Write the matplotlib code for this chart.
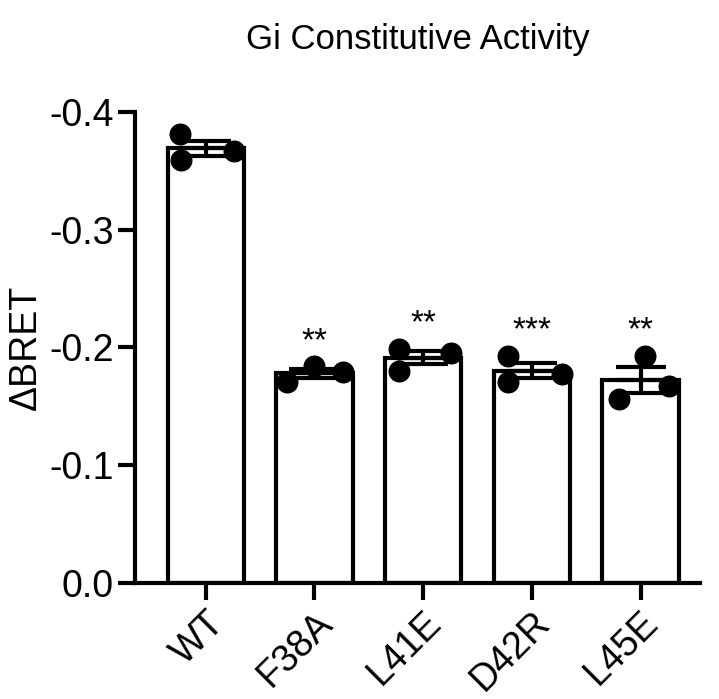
import matplotlib.pyplot as plt
import numpy as np

groups = ['WT', 'F38A', 'L41E', 'D42R', 'L45E']
points = [
    [-0.381, -0.359, -0.367],
    [-0.171, -0.184, -0.179],
    [-0.199, -0.180, -0.195],
    [-0.193, -0.171, -0.177],
    [-0.156, -0.193, -0.167],
]
offsets = [
    [-0.24, -0.23, 0.26],
    [-0.25, 0.0, 0.26],
    [-0.22, -0.22, 0.26],
    [-0.22, -0.22, 0.28],
    [-0.2, 0.04, 0.26],
]
stars = ['', '**', '**', '***', '**']

plt.rcParams['font.family'] = 'Liberation Sans'
fig = plt.figure(figsize=(7.19, 6.99), dpi=100)
ax = fig.add_axes([0.188, 0.166, 0.786, 0.674])

x = np.arange(len(groups))
means = [np.mean(p) for p in points]
sems = [np.std(p, ddof=1) / np.sqrt(len(p)) for p in points]
ax.bar(x, means, width=0.7, color='white', edgecolor='black', linewidth=3, zorder=1)
for i, p in enumerate(points):
    ax.scatter(x[i] + np.array(offsets[i]), p, s=220, color='black', zorder=3)
    ax.errorbar(x[i], means[i], yerr=sems[i], fmt='none', ecolor='black',
                elinewidth=3, capsize=18, capthick=3, zorder=4)
    ax.plot([x[i] - 0.2, x[i] + 0.2], [means[i]] * 2, color='black', lw=3, zorder=4)
    if stars[i]:
        ax.text(x[i], min(p) - 0.008, stars[i], ha='center', va='bottom', fontsize=24)

ax.set_ylim(0, -0.4)
ax.set_xlim(-0.65, 4.55)
ax.set_yticks([0, -0.1, -0.2, -0.3, -0.4])
ax.set_yticklabels(['0.0', '-0.1', '-0.2', '-0.3', '-0.4'])
ax.set_xticks(x)
ax.set_xticklabels(groups, rotation=45, ha='right', rotation_mode='anchor')
ax.tick_params(labelsize=27, width=3, length=12)
for s in ['top', 'right']:
    ax.spines[s].set_visible(False)
for s in ['left', 'bottom']:
    ax.spines[s].set_linewidth(3)
ax.set_ylabel('ΔBRET', fontsize=27)
ax.set_title('Gi Constitutive Activity', fontsize=25, pad=45)
fig.savefig('out.png', dpi=100)
